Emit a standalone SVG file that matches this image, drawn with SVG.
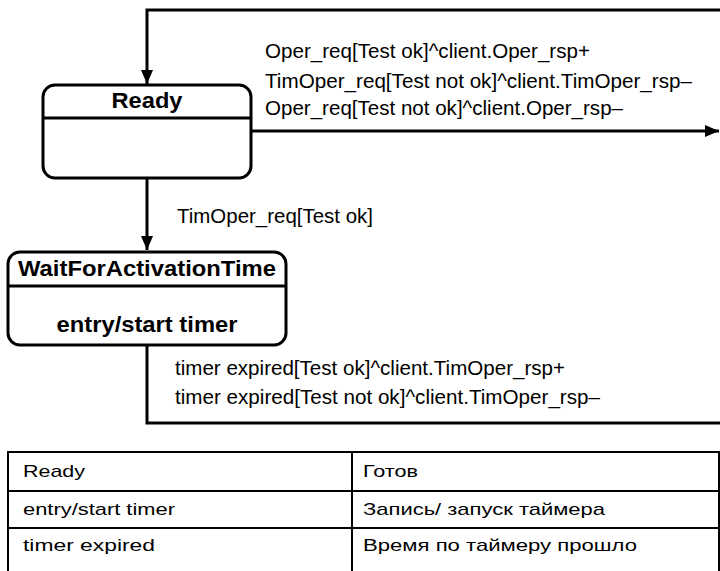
<svg xmlns="http://www.w3.org/2000/svg" width="720" height="571" viewBox="0 0 720 571">
<style>
.st{fill:#fff;stroke:#000;stroke-width:3}
.dv{stroke:#000;stroke-width:3}
.ttl{font-family:"Liberation Sans",Arial,sans-serif;font-weight:bold;font-size:22px;fill:#000}
.lbl{font-family:"Liberation Sans",Arial,sans-serif;font-size:20px;fill:#000}
.cn{fill:none;stroke:#000;stroke-width:3}
.tb{fill:none;stroke:#000;stroke-width:2}
.tt{font-family:"Liberation Sans",Arial,sans-serif;font-size:17px;fill:#000}
</style>
<defs>
<marker id="ah" viewBox="0 0 14 12" refX="14" refY="6" markerWidth="14" markerHeight="12" markerUnits="userSpaceOnUse" orient="auto">
<path d="M0,0 L14,6 L0,12 Z" fill="#000"/>
</marker>
</defs>
<rect width="720" height="571" fill="#fff"/>
<g id="connectors">
<path class="cn" d="M720,10 L147,10 L147,84" marker-end="url(#ah)"/>
<path class="cn" d="M251,131 L719,131" marker-end="url(#ah)"/>
<path class="cn" d="M147,178 L147,250" marker-end="url(#ah)"/>
<path class="cn" d="M147,345 L147,423 L720,423"/>
<text class="lbl" x="265" y="58" textLength="325" lengthAdjust="spacingAndGlyphs">Oper_req[Test ok]^client.Oper_rsp+</text>
<text class="lbl" x="265" y="88" textLength="427" lengthAdjust="spacingAndGlyphs">TimOper_req[Test not ok]^client.TimOper_rsp–</text>
<text class="lbl" x="265" y="115" textLength="358" lengthAdjust="spacingAndGlyphs">Oper_req[Test not ok]^client.Oper_rsp–</text>
<text class="lbl" x="177" y="223" textLength="196" lengthAdjust="spacingAndGlyphs">TimOper_req[Test ok]</text>
<text class="lbl" x="175" y="375" textLength="390" lengthAdjust="spacingAndGlyphs">timer expired[Test ok]^client.TimOper_rsp+</text>
<text class="lbl" x="175" y="404" textLength="425" lengthAdjust="spacingAndGlyphs">timer expired[Test not ok]^client.TimOper_rsp–</text>
</g>
<g id="ready">
<rect class="st" x="43" y="85" width="208" height="93" rx="12"/>
<line class="dv" x1="43" y1="118" x2="251" y2="118"/>
<text class="ttl" x="147" y="108" text-anchor="middle" textLength="71" lengthAdjust="spacingAndGlyphs">Ready</text>
</g>
<g id="waitForActivationTime">
<rect class="st" x="8" y="252" width="278" height="93" rx="12"/>
<line class="dv" x1="8" y1="286" x2="286" y2="286"/>
<text class="ttl" x="147" y="276" text-anchor="middle" textLength="258" lengthAdjust="spacingAndGlyphs">WaitForActivationTime</text>
<text class="ttl" x="147" y="332" text-anchor="middle" textLength="181" lengthAdjust="spacingAndGlyphs">entry/start timer</text>
</g>
<g id="table">
<path class="tb" d="M8,571 L8,452 L719,452 L719,571 M8,491 L719,491 M8,528 L719,528 M352,452 L352,571"/>
<text class="tt" x="23" y="477" textLength="62" lengthAdjust="spacingAndGlyphs">Ready</text>
<text class="tt" x="23" y="515" textLength="152" lengthAdjust="spacingAndGlyphs">entry/start timer</text>
<text class="tt" x="23" y="551" textLength="132" lengthAdjust="spacingAndGlyphs">timer expired</text>
<text class="tt" x="363" y="477" textLength="55" lengthAdjust="spacingAndGlyphs">Готов</text>
<text class="tt" x="363" y="515" textLength="242" lengthAdjust="spacingAndGlyphs">Запись/ запуск таймера</text>
<text class="tt" x="363" y="551" textLength="274" lengthAdjust="spacingAndGlyphs">Время по таймеру прошло</text>
</g>
</svg>
